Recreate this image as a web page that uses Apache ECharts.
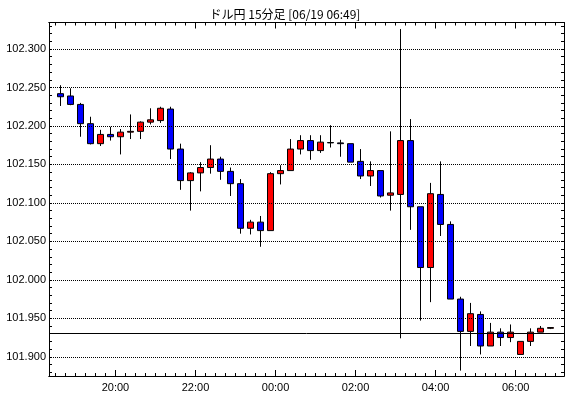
<!DOCTYPE html>
<html><head><meta charset="utf-8">
<script src="https://cdn.jsdelivr.net/npm/echarts@6/dist/echarts.min.js"></script>
<style>html,body{margin:0;padding:0;background:#fff}#c{width:570px;height:398px}</style>
</head><body><div id="c"></div>
<script>
const chartTitle = 'ドル円 15分足 [06/19 06:49]';
const times = ['18:30','18:45','19:00','19:15','19:30','19:45','20:00','20:15','20:30','20:45',
  '21:00','21:15','21:30','21:45','22:00','22:15','22:30','22:45','23:00','23:15',
  '23:30','23:45','00:00','00:15','00:30','00:45','01:00','01:15','01:30','01:45',
  '02:00','02:15','02:30','02:45','03:00','03:15','03:30','03:45','04:00','04:15',
  '04:30','04:45','05:00','05:15','05:30','05:45','06:00','06:15','06:30','06:45'];
const opens  = [102.242,102.239,102.228,102.203,102.177,102.189,102.186,102.192,102.193,102.205,
  102.207,102.222,102.170,102.129,102.139,102.146,102.157,102.141,102.125,102.067,
  102.075,102.064,102.138,102.142,102.170,102.181,102.168,102.1785,102.178,102.177,
  102.154,102.135,102.142,102.110,102.111,102.181,102.095,102.016,102.111,102.072,
  101.975,101.933,101.955,101.914,101.932,101.925,101.903,101.920,101.932,101.937];
const closes = [102.238,102.228,102.203,102.177,102.189,102.186,102.192,102.193,102.205,102.208,
  102.223,102.170,102.129,102.139,102.146,102.157,102.141,102.125,102.067,102.075,
  102.064,102.138,102.142,102.170,102.181,102.168,102.179,102.178,102.177,102.153,
  102.135,102.142,102.109,102.113,102.181,102.095,102.016,102.112,102.072,101.975,
  101.933,101.956,101.914,101.932,101.925,101.932,101.920,101.932,101.937,101.938];
const lows   = [102.226,102.227,102.186,102.176,102.174,102.181,102.163,102.183,102.183,102.202,
  102.204,102.157,102.117,102.090,102.115,102.138,102.130,102.109,102.060,102.059,
  102.043,102.064,102.124,102.142,102.163,102.156,102.165,102.172,102.160,102.153,
  102.131,102.122,102.107,102.090,101.924,102.065,101.947,101.971,102.057,101.975,
  101.882,101.914,101.903,101.914,101.914,101.919,101.903,101.914,101.932,101.936];
const highs  = [102.253,102.249,102.230,102.212,102.195,102.199,102.196,102.215,102.206,102.223,
  102.225,102.225,102.177,102.140,102.153,102.175,102.160,102.146,102.131,102.078,
  102.083,102.140,102.149,102.183,102.188,102.188,102.188,102.201,102.182,102.177,
  102.170,102.154,102.142,102.193,102.326,102.209,102.095,102.126,102.154,102.076,
  101.978,101.970,101.959,101.944,101.937,101.942,101.920,101.937,101.940,101.938];
const xTickLabels = ['20:00','22:00','00:00','02:00','04:00','06:00'];
const yTickLabels = ['101.900','101.950','102.000','102.050','102.100','102.150','102.200','102.250','102.300'];
const refLine = 101.933;

const X_MIN = -1.14, X_MAX = 50.33;
const Y_MIN = 101.875, Y_MAX = 102.3345;

const candleData = times.map((t, i) => [i, opens[i], closes[i], lows[i], highs[i]]);
const xLabelPos = xTickLabels.map(l => times.indexOf(l) - 0.5);
const xMinor = [];
for (let i = 0; i <= times.length; i++) { const v = i - 0.5; if (v > X_MIN && v < X_MAX) xMinor.push(v); }
const yLabelVals = yTickLabels.map(Number);
const yMinor = [];
for (let k = 0; k < 100; k++) { const v = Math.round((101.88 + k * 0.01) * 1000) / 1000; if (v > Y_MIN && v < Y_MAX) yMinor.push(v); }

const font = 'Liberation Sans, Arial, sans-serif';
const lineBlack = { lineStyle: { color: '#000', width: 1 } };

function xAx(pos, ticks, len, labels) {
  return {
    type: 'value', position: pos, min: X_MIN, max: X_MAX,
    axisLine: { show: true, onZero: false, lineStyle: { color: '#000', width: 1 } },
    axisTick: { show: true, inside: true, length: len, customValues: ticks, lineStyle: { color: '#000', width: 1 } },
    axisLabel: labels ? {
      show: true, customValues: xLabelPos, margin: 6, color: '#000', fontSize: 11, fontFamily: font,
      formatter: v => { const j = xLabelPos.findIndex(p => Math.abs(p - v) < 1e-6); return j >= 0 ? xTickLabels[j] : ''; }
    } : { show: false },
    splitLine: { show: false }
  };
}
function yAx(pos, ticks, len, labels) {
  return {
    type: 'value', position: pos, min: Y_MIN, max: Y_MAX, scale: true,
    axisLine: { show: true, onZero: false, lineStyle: { color: '#000', width: 1 } },
    axisTick: { show: true, inside: true, length: len, customValues: ticks, lineStyle: { color: '#000', width: 1 } },
    axisLabel: labels ? {
      show: true, customValues: yLabelVals, margin: 3, color: '#000', fontSize: 11, fontFamily: font,
      formatter: v => v.toFixed(3)
    } : { show: false },
    splitLine: { show: false }
  };
}

const chart = echarts.init(document.getElementById('c'), null, { renderer: 'canvas' });
chart.setOption({
  animation: false,
  backgroundColor: '#fff',
  title: { text: chartTitle, left: 'center', top: 3,
    textStyle: { fontSize: 12, fontWeight: 'normal', color: '#000', fontFamily: 'Noto Sans CJK JP, sans-serif' } },
  grid: { left: 49, right: 6, top: 22.5, bottom: 22, containLabel: false },
  xAxis: [
    xAx('bottom', xLabelPos, 6, true),
    xAx('bottom', xMinor, 3, false),
    xAx('top', xLabelPos, 6, false),
    xAx('top', xMinor, 3, false)
  ],
  yAxis: [
    yAx('left', yMinor, 3, true),
    yAx('right', yMinor, 3, false)
  ],
  series: [
    {
      type: 'line', xAxisIndex: 0, yAxisIndex: 0, data: [], silent: true,
      markLine: {
        silent: true, symbol: 'none', label: { show: false },
        lineStyle: { color: '#000', width: 1, type: [1, 1] },
        data: yLabelVals.map(v => ({ yAxis: v }))
      }
    },
    {
      type: 'candlestick', xAxisIndex: 0, yAxisIndex: 0,
      encode: { x: 0, y: [1, 2, 3, 4] },
      data: candleData,
      barWidth: 6,
      itemStyle: { color: '#ff0000', color0: '#0000ff', borderColor: '#000', borderColor0: '#000', borderWidth: 1 },
      markLine: {
        silent: true, symbol: 'none', label: { show: false },
        lineStyle: { color: '#000', width: 1, type: 'solid' },
        data: [{ yAxis: refLine }]
      }
    }
  ]
});
</script></body></html>
